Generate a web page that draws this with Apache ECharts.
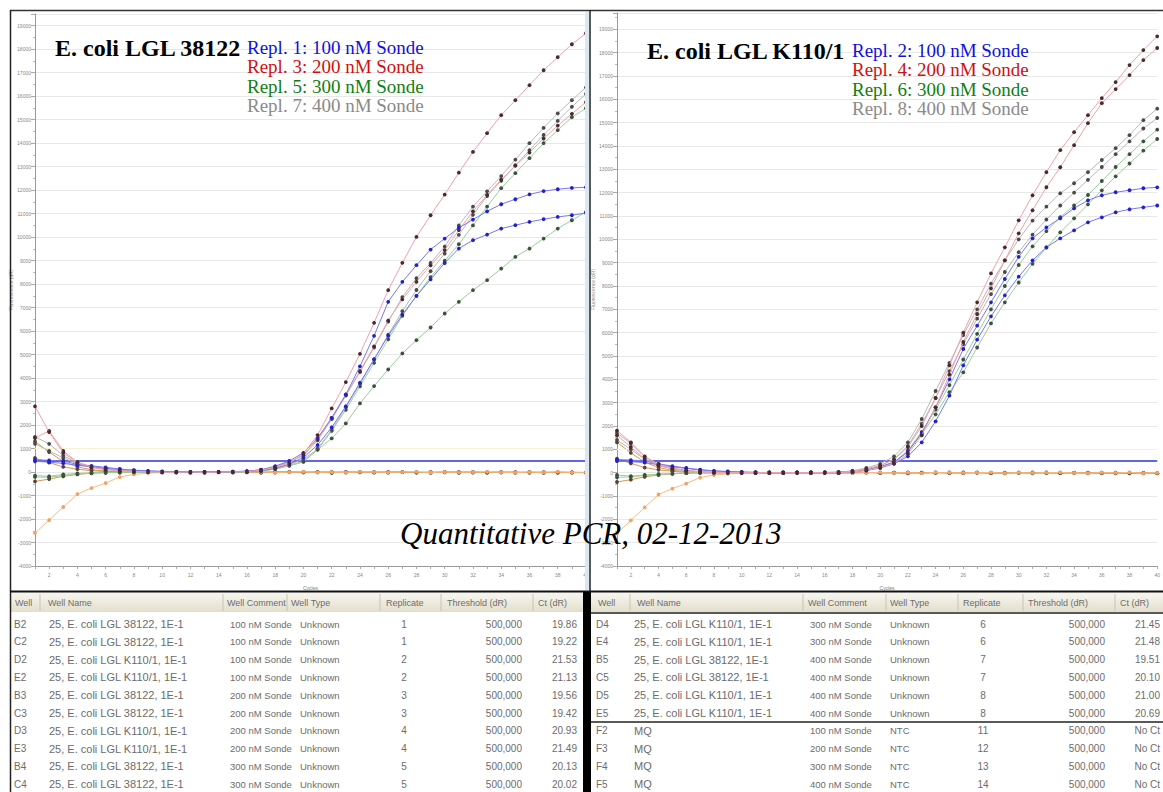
<!DOCTYPE html>
<html><head><meta charset="utf-8">
<script src="https://cdn.jsdelivr.net/npm/echarts@6/dist/echarts.min.js"></script>
<style>html,body{margin:0;padding:0;background:#fff;}#c{width:1163px;height:792px;}</style>
</head><body><div id="c"></div>
<script>
// ---------------- DATA ----------------
const cycles = [1,2,3,4,5,6,7,8,9,10,11,12,13,14,15,16,17,18,19,20,21,22,23,24,25,26,27,28,29,30,31,32,33,34,35,36,37,38,39,40];
const xTickLabels = [2,4,6,8,10,12,14,16,18,20,22,24,26,28,30,32,34,36,38,40];
const threshold = 500;

// E. coli LGL 38122 wells (dR)
const B2 = [460,420,370,290,220,160,110,70,40,20,10,0,-10,0,10,20,60,160,340,620,1150,1900,2800,3800,4800,5800,6700,7500,8200,8900,9515,9869,10110,10366,10508,10649,10763,10862,10933,11032];
const C2 = [520,500,480,320,260,200,130,80,50,30,20,10,0,10,20,40,100,250,470,820,1450,2300,3300,4500,5800,7246,8097,8806,9472,9940,10400,10749,11100,11400,11614,11820,11960,12040,12096,12124];
const B3 = [2800,1700,820,400,210,110,60,30,10,0,-10,10,-20,0,10,20,80,200,380,780,1574,2708,3829,5034,6353,7742,8905,10011,10933,11812,12748,13627,14426,15191,15830,16468,17106,17660,18213,18681];
const C3 = [1450,1750,900,420,230,130,70,40,20,10,0,-10,10,0,20,30,90,210,420,720,1400,2300,3300,4300,5350,6450,7350,8100,8800,9450,10300,11100,11800,12450,13050,13600,14200,14750,15250,15750];
const B4 = [-150,-180,-100,-60,-30,-20,-10,0,0,-10,0,10,-10,0,0,10,40,120,260,430,950,1750,2650,3650,4650,5650,6650,7500,8300,9000,9700,10500,11300,12085,12723,13362,14000,14553,15106,15489];
const C4 = [-210,-220,-150,-80,-50,-30,-20,-10,0,0,-10,0,10,0,-10,10,50,140,300,560,950,1432,2070,2921,3658,4367,5048,5615,6154,6750,7246,7742,8168,8664,9160,9515,9940,10366,10720,11075];
const B5 = [1500,1200,700,380,200,120,60,30,10,0,10,-10,0,10,0,30,90,220,430,700,1350,2250,3250,4250,5300,6400,7450,8250,8900,9600,10500,11300,11950,12600,13300,14000,14650,15270,15830,16380];
const C5 = [1200,900,600,350,190,100,50,20,10,0,-10,0,10,-10,0,20,60,150,300,450,1000,1800,2750,3750,4800,5850,6850,7750,8550,9300,10100,10950,11750,12400,13050,13700,14350,14950,15550,16100];

// E. coli LGL K110/1 wells (dR)
const D2 = [500,470,430,340,250,180,120,70,40,20,10,0,-10,0,10,0,0,30,90,200,380,700,1300,2200,3300,4600,5700,6700,7600,8400,9100,9657,10043,10386,10730,10944,11159,11288,11373,11450];
const E2 = [560,540,500,380,280,200,130,80,50,30,10,0,10,0,-10,0,10,50,130,260,450,900,1700,2800,4000,5300,6300,7300,8300,9250,10043,10515,10900,11330,11674,11888,12017,12103,12189,12230];
const D3 = [1800,1300,700,360,190,100,50,20,0,-10,0,10,-10,0,10,0,10,60,150,300,560,1100,2000,3200,4600,6000,7300,8541,9657,10815,11888,12876,13820,14592,15322,16052,16738,17468,18112,18700];
const E3 = [1600,1100,600,320,170,90,40,10,0,10,-10,0,0,-10,0,10,0,30,100,220,400,800,1600,2800,4200,5600,6800,7897,9099,10258,11245,12232,13090,14034,14979,15837,16438,17039,17682,18200];
const D4 = [-100,-150,-100,-60,-40,-20,-10,0,0,10,-10,0,0,10,-10,0,10,40,120,230,450,950,1750,2700,3750,4850,5950,7000,8000,8900,9700,10350,10950,11450,11900,12500,13100,13650,14200,14700];
const E4 = [-200,-180,-120,-70,-40,-20,0,-10,0,0,10,-10,0,0,10,-10,0,40,120,220,430,900,1650,2500,3450,4300,5365,6395,7300,8150,8950,9650,10300,10900,11500,12100,12700,13250,13800,14300];
const D5 = [1400,1000,560,300,160,80,30,10,0,0,-10,10,0,-10,0,10,20,60,160,300,580,1150,2100,3200,4350,5500,6600,7650,8600,9450,10200,10850,11450,12000,12550,13100,13650,14200,14750,15200];
const E5 = [1700,1250,680,350,180,90,40,10,0,-10,10,0,-10,10,0,10,20,80,200,380,700,1300,2300,3500,4700,5900,7000,8100,9100,10000,10800,11400,11974,12403,12876,13400,13906,14464,15107,15600];

// NTC wells (MQ), shown in both plots
const F2 = [1300,850,450,220,100,40,10,0,-10,0,10,-20,0,10,-10,0,-20,10,0,-10,0,10,-20,0,-10,10,0,-10,-30,0,10,-20,0,-10,-30,0,-20,-10,-30,-20];
const F3 = [600,400,220,120,60,20,0,-10,0,10,-10,0,-20,0,10,-10,0,-20,10,0,-10,-30,0,10,-20,-10,0,-20,0,-10,-30,0,-20,-10,0,-20,-30,0,-10,-30];
const F4 = [-400,-300,-180,-100,-50,-20,-10,0,10,-10,0,-20,10,0,-10,0,-20,0,10,-10,0,-20,0,-10,10,-20,0,-10,-20,0,-10,10,-20,0,-10,-20,0,-30,-10,-20];
const F5 = [-2600,-2043,-1489,-936,-681,-468,-213,-100,-50,-20,0,-10,10,0,-10,0,10,-20,0,10,-10,0,-20,10,0,-10,0,10,-20,0,-10,0,10,-10,-20,0,-10,10,-20,-10];

// table
const tableHeader = ['Well','Well Name','Well Comment','Well Type','Replicate','Threshold (dR)','Ct (dR)'];
const leftRows = [
  ['B2','25, E. coli LGL 38122, 1E-1','100 nM Sonde','Unknown','1','500,000','19.86'],
  ['C2','25, E. coli LGL 38122, 1E-1','100 nM Sonde','Unknown','1','500,000','19.22'],
  ['D2','25, E. coli LGL K110/1, 1E-1','100 nM Sonde','Unknown','2','500,000','21.53'],
  ['E2','25, E. coli LGL K110/1, 1E-1','100 nM Sonde','Unknown','2','500,000','21.13'],
  ['B3','25, E. coli LGL 38122, 1E-1','200 nM Sonde','Unknown','3','500,000','19.56'],
  ['C3','25, E. coli LGL 38122, 1E-1','200 nM Sonde','Unknown','3','500,000','19.42'],
  ['D3','25, E. coli LGL K110/1, 1E-1','200 nM Sonde','Unknown','4','500,000','20.93'],
  ['E3','25, E. coli LGL K110/1, 1E-1','200 nM Sonde','Unknown','4','500,000','21.49'],
  ['B4','25, E. coli LGL 38122, 1E-1','300 nM Sonde','Unknown','5','500,000','20.13'],
  ['C4','25, E. coli LGL 38122, 1E-1','300 nM Sonde','Unknown','5','500,000','20.02']
];
const rightRows = [
  ['D4','25, E. coli LGL K110/1, 1E-1','300 nM Sonde','Unknown','6','500,000','21.45'],
  ['E4','25, E. coli LGL K110/1, 1E-1','300 nM Sonde','Unknown','6','500,000','21.48'],
  ['B5','25, E. coli LGL 38122, 1E-1','400 nM Sonde','Unknown','7','500,000','19.51'],
  ['C5','25, E. coli LGL 38122, 1E-1','400 nM Sonde','Unknown','7','500,000','20.10'],
  ['D5','25, E. coli LGL K110/1, 1E-1','400 nM Sonde','Unknown','8','500,000','21.00'],
  ['E5','25, E. coli LGL K110/1, 1E-1','400 nM Sonde','Unknown','8','500,000','20.69'],
  ['F2','MQ','100 nM Sonde','NTC','11','500,000','No Ct'],
  ['F3','MQ','200 nM Sonde','NTC','12','500,000','No Ct'],
  ['F4','MQ','300 nM Sonde','NTC','13','500,000','No Ct'],
  ['F5','MQ','400 nM Sonde','NTC','14','500,000','No Ct']
];
const leftTitle = 'E. coli LGL 38122';
const rightTitle = 'E. coli LGL K110/1';
const leftLegend = ['Repl. 1: 100 nM Sonde','Repl. 3: 200 nM Sonde','Repl. 5: 300 nM Sonde','Repl. 7: 400 nM Sonde'];
const rightLegend = ['Repl. 2: 100 nM Sonde','Repl. 4: 200 nM Sonde','Repl. 6: 300 nM Sonde','Repl. 8: 400 nM Sonde'];
const legendColors = ['#1010e0','#d01010','#108010','#8a8a8a'];
const footTitle = 'Quantitative PCR, 02-12-2013';

// ---------------- STYLES ----------------
const styles = {
  blue:  {line:'#7878f0', mark:'#2222cc'},
  red:   {line:'#f2a0aa', mark:'#4a2a2a'},
  green: {line:'#98d098', mark:'#3c523c'},
  gray:  {line:'#b8b8b8', mark:'#4a4a4a'},
  ntc:   {line:'#d89858', mark:'#5a4430'},
  ntcO:  {line:'#f6bc88', mark:'#f0a468'}
};
const leftSet = [[F2,'ntc'],[F3,'ntc'],[F4,'ntc'],[F5,'ntcO'],[C4,'green'],[B4,'green'],[C5,'gray'],[B5,'gray'],[C3,'red'],[B2,'blue'],[C2,'blue'],[B3,'red']];
const rightSet = [[F2,'ntc'],[F3,'ntc'],[F4,'ntc'],[F5,'ntcO'],[E4,'green'],[D4,'green'],[D5,'gray'],[E5,'gray'],[D2,'blue'],[E2,'blue'],[E3,'red'],[D3,'red']];

function makeSeries(set, idx){
  return set.map(([arr,k],i)=>{
    const s = {
      type:'line', xAxisIndex:idx, yAxisIndex:idx,
      data: cycles.map((c,j)=>[c,arr[j]]),
      symbol:'circle', symbolSize:3.8, showSymbol:true,
      lineStyle:{color:styles[k].line, width:1},
      itemStyle:{color:styles[k].mark},
      animation:false, silent:true, z:2+i
    };
    if(i===0){
      s.markLine = {symbol:['none','none'], silent:true, animation:false, label:{show:false},
        data:[{yAxis:1000, lineStyle:{color:'#f5f3d6', width:1, type:'solid'}},
              {yAxis:threshold, lineStyle:{color:'#2a36d8', width:1.6, type:'solid'}}]};
    }
    return s;
  });
}

function xAx(idx){
  return {type:'value', gridIndex:idx, min:1, max:40, interval:1,
    name:'Cycles', nameLocation:'middle', nameGap:19, nameTextStyle:{fontSize:5,color:'#777'},
    axisLine:{show:true, onZero:false, lineStyle:{color:'#9a9a9a', width:1}},
    axisTick:{show:true, length:3, lineStyle:{color:'#aaa'}},
    axisLabel:{fontSize:5, color:'#888', margin:6, formatter:v=> xTickLabels.includes(v)? String(v):''},
    splitLine:{show:false}};
}
function yAx(idx,max){
  return {type:'value', gridIndex:idx, min:-4000, max:max, interval:1000,
    name:'Fluorescence (dR)', nameLocation:'middle', nameGap:19, nameRotate:90,
    nameTextStyle:{fontSize:5,color:'#888'},
    axisLine:{show:true, onZero:false, lineStyle:{color:'#9a9a9a', width:1}},
    axisTick:{show:true, length:4, lineStyle:{color:'#aaa'}},
    minorTick:{show:true, splitNumber:2, length:2, lineStyle:{color:'#bbb'}},
    axisLabel:{fontSize:5, color:'#888', margin:4, showMaxLabel:false,
      formatter:v=> (v%1000===0)? String(v):''},
    splitLine:{show:true, lineStyle:{color:'#e8e8e8', width:1}}};
}

// ---------------- GRAPHIC ----------------
const G = [];
function T(x,y,text,o){
  o=o||{};
  const st = {text:text, fill:o.fill||'#000',
    fontSize:o.size||12, fontFamily:o.family||'Liberation Serif', fontWeight:o.weight||'normal',
    fontStyle:o.style||'normal', align:o.align||'left', verticalAlign:o.va||'middle'};
  if(o.lh) st.lineHeight = o.lh;
  G.push({type:'text', x:x, y:y, z:50, silent:true, style:st});
}
function LN(x1,y1,x2,y2,c,w){G.push({type:'line', z:60, silent:true, shape:{x1,y1,x2,y2}, style:{stroke:c, lineWidth:w}});}
function R(x,y,w,h,fill,z){G.push({type:'rect', z:z||40, silent:true, shape:{x,y,width:w,height:h}, style:{fill:fill}});}

// titles & legends
T(55,48,leftTitle,{size:24,weight:'bold'});
T(647,51,rightTitle,{size:24,weight:'bold'});
leftLegend.forEach((t,i)=>T(247,[47,66.5,86,105.5][i],t,{size:19,fill:legendColors[i],lh:19}));
rightLegend.forEach((t,i)=>T(852,[50,69.5,89,108.5][i],t,{size:19,fill:legendColors[i],lh:19}));
T(400,533,footTitle,{size:31,style:'italic'});

// right edge glow of left plot
R(585,12,4,578,'#dbe7f3',45);

// table area
const hdrGrad = new echarts.graphic.LinearGradient(0,0,0,1,[{offset:0,color:'#f8f7f1'},{offset:1,color:'#e3dfcd'}]);
R(10,592,573,20,hdrGrad,41);
R(591,592,572,20,hdrGrad,41);
const hf = {size:9, family:'Liberation Sans', fill:'#6c6c6c'};
const fName = {size:11, family:'Liberation Sans', fill:'#6c6c6c'};
const fCell = {size:9.5, family:'Liberation Sans', fill:'#6c6c6c'};
const fNum = {size:10, family:'Liberation Sans', fill:'#6c6c6c'};
const withAlign = (f,a)=>Object.assign({},f,{align:a});
// left header
[[15,0],[48,1],[227,2],[291,3],[386,4],[447,5],[538,6]].forEach(([x,i])=>T(x,603,tableHeader[i],hf));
[40,223,287,380,441,533].forEach(x=>LN(x,594,x,611,'#c9c4b0',1));
// right header
[[598,0],[637,1],[808,2],[890,3],[963,4],[1028,5],[1120,6]].forEach(([x,i])=>T(x,603,tableHeader[i],hf));
[630,803,886,958,1023,1115].forEach(x=>LN(x,594,x,611,'#c9c4b0',1));
// rows
const rowY = i => 624 + i*17.8;
leftRows.forEach((r,i)=>{
  const y=rowY(i);
  T(14,y,r[0],fNum); T(49,y,r[1],fName); T(230,y,r[2],fCell); T(300,y,r[3],fCell);
  T(404,y,r[4],withAlign(fNum,'center'));
  T(522,y,r[5],withAlign(fNum,'right'));
  T(577,y,r[6],withAlign(fNum,'right'));
});
rightRows.forEach((r,i)=>{
  const y=rowY(i);
  T(596,y,r[0],fNum); T(634,y,r[1],fName); T(810,y,r[2],fCell); T(890,y,r[3],fCell);
  T(983,y,r[4],withAlign(fNum,'center'));
  T(1105,y,r[5],withAlign(fNum,'right'));
  T(1160,y,r[6],withAlign(fNum,'right'));
});
LN(591,613,1163,613,'#222',1.5);
LN(591,722,1163,722,'#222',1.5);
R(583,592,8,200,'#000',61);

// frames
LN(10,10.5,1163,10.5,'#333',1.5);
LN(10.5,10,10.5,792,'#222',1.5);
LN(590,10,590,592,'#222',1.5);
LN(10,591.5,1163,591.5,'#111',2);

// ---------------- CHART ----------------
const chart = echarts.init(document.getElementById('c'), null, {renderer:'svg'});
chart.setOption({
  backgroundColor:'#ffffff',
  animation:false,
  grid:[{left:35, top:14, width:551, height:552, show:false},
        {left:617, top:13, width:552, height:553, show:false}],
  xAxis:[xAx(0), xAx(1)],
  yAxis:[yAx(0,19500), yAx(1,19700)],
  series:[...makeSeries(leftSet,0), ...makeSeries(rightSet,1)],
  graphic:G
});
</script></body></html>
